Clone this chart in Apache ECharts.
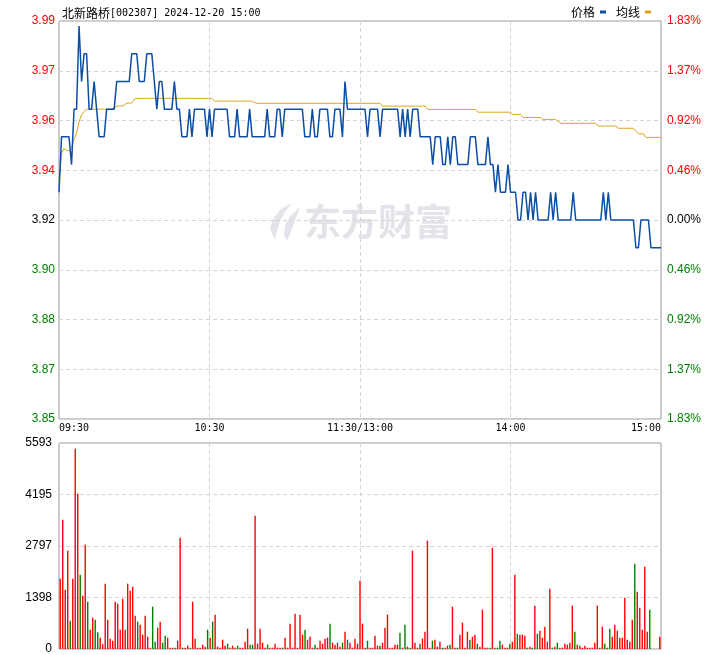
<!DOCTYPE html>
<html><head><meta charset="utf-8">
<script src="https://cdn.jsdelivr.net/npm/echarts@6/dist/echarts.min.js"></script>
<style>html,body{margin:0;padding:0;background:#fff}#c{width:720px;height:655px}</style>
</head><body><div id="c"></div>
<script>
const stockName = '北新路桥';
const stockInfo = '[002307] 2024-12-20 15:00';
const preClose = 3.92;
const volMax = 5593;
const tickLabels = ['09:30', '10:30', '11:30', '14:00', '15:00'];
const splitLabels = ['10:30', '11:30', '14:00'];
const legendNames = ['价格', '均线'];

const price = [
 3.93,3.95,3.95,3.95,3.95,3.94,3.96,3.96,3.99,3.97,3.98,3.98,3.96,3.96,3.97,3.96,3.95,3.95,3.95,3.96,
 3.96,3.96,3.96,3.97,3.97,3.97,3.97,3.97,3.97,3.98,3.98,3.98,3.97,3.97,3.97,3.98,3.98,3.98,3.97,3.96,
 3.97,3.97,3.96,3.96,3.96,3.96,3.97,3.96,3.96,3.95,3.95,3.95,3.96,3.95,3.96,3.96,3.96,3.96,3.96,3.95,
 3.96,3.95,3.96,3.96,3.96,3.96,3.96,3.96,3.95,3.95,3.95,3.96,3.95,3.95,3.95,3.95,3.96,3.95,3.95,3.95,
 3.95,3.95,3.95,3.96,3.95,3.95,3.95,3.96,3.96,3.95,3.96,3.96,3.96,3.96,3.96,3.96,3.96,3.96,3.95,3.95,
 3.95,3.96,3.95,3.95,3.96,3.96,3.96,3.96,3.95,3.95,3.96,3.96,3.96,3.95,3.97,3.96,3.96,3.96,3.96,3.96,
 3.96,3.96,3.96,3.95,3.96,3.96,3.96,3.96,3.95,3.96,3.96,3.96,3.96,3.96,3.96,3.96,3.95,3.96,3.95,3.96,
 3.95,3.96,3.96,3.96,3.95,3.95,3.95,3.95,3.95,3.94,3.95,3.95,3.95,3.94,3.94,3.95,3.94,3.95,3.95,3.94,
 3.94,3.94,3.94,3.94,3.95,3.95,3.95,3.94,3.94,3.94,3.94,3.95,3.94,3.94,3.93,3.94,3.93,3.93,3.93,3.94,
 3.93,3.93,3.93,3.92,3.92,3.93,3.93,3.92,3.93,3.92,3.93,3.92,3.92,3.92,3.92,3.92,3.93,3.92,3.93,3.92,
 3.92,3.92,3.92,3.92,3.92,3.93,3.92,3.92,3.92,3.92,3.92,3.92,3.92,3.92,3.92,3.92,3.92,3.93,3.92,3.93,
 3.92,3.92,3.92,3.92,3.92,3.92,3.92,3.92,3.92,3.92,3.91,3.91,3.92,3.92,3.92,3.92,3.91,3.91,3.91,3.91,3.91
];

const avgPrice = [
 3.934,3.944,3.9458,3.9452,3.945,3.946,3.949,3.9515,3.9555,3.958,3.9592,3.96,3.96,3.96,3.96,3.96,3.96,3.96,3.96,3.96,
 3.96,3.96,3.9606,3.9611,3.9611,3.9611,3.9615,3.9621,3.9622,3.9622,3.9636,3.9639,3.9639,3.9639,3.9639,3.9639,3.9639,3.9639,3.9639,3.9639,
 3.9639,3.9639,3.9639,3.9639,3.9639,3.9639,3.9639,3.9639,3.9639,3.9639,3.9639,3.9639,3.9639,3.9639,3.9639,3.9639,3.9639,3.9639,3.9639,3.9639,
 3.9639,3.9639,3.9629,3.9629,3.9629,3.9629,3.9629,3.9629,3.9629,3.9629,3.9629,3.9629,3.9629,3.9629,3.9629,3.9629,3.9629,3.9629,3.9624,3.9621,
 3.9621,3.9621,3.9621,3.9621,3.9621,3.9621,3.9621,3.9621,3.9621,3.9621,3.9621,3.9621,3.9621,3.9621,3.9621,3.9621,3.9621,3.9621,3.9621,3.9621,
 3.9621,3.9621,3.9621,3.9621,3.9621,3.9621,3.9621,3.9621,3.9621,3.9621,3.9621,3.9621,3.9621,3.9621,3.9621,3.9621,3.9621,3.9621,3.9621,3.9621,
 3.9621,3.9621,3.9621,3.9621,3.9621,3.9621,3.9621,3.9621,3.9621,3.9611,3.9611,3.9611,3.9611,3.9611,3.9611,3.9611,3.9611,3.9611,3.9611,3.9611,
 3.9611,3.9611,3.9611,3.9611,3.9611,3.9611,3.9611,3.9599,3.9599,3.9599,3.9599,3.9599,3.9599,3.9599,3.9599,3.9599,3.9599,3.9599,3.9599,3.9599,
 3.9599,3.9599,3.9599,3.9599,3.9599,3.9599,3.9599,3.9589,3.9589,3.9589,3.9589,3.9589,3.9589,3.9589,3.9589,3.9589,3.9589,3.9589,3.9589,3.9589,
 3.9589,3.9581,3.9581,3.9581,3.9581,3.957,3.957,3.957,3.957,3.957,3.957,3.957,3.957,3.9563,3.9563,3.9563,3.9563,3.9563,3.9563,3.9556,
 3.9549,3.9549,3.9549,3.9549,3.9549,3.9549,3.9549,3.9549,3.9549,3.9549,3.9549,3.9549,3.9549,3.9549,3.9549,3.9539,3.9539,3.9539,3.9539,3.9539,
 3.9539,3.9539,3.9539,3.9531,3.9531,3.9531,3.9531,3.9531,3.9531,3.9531,3.952,3.9511,3.9511,3.9511,3.9498,3.9498,3.9498,3.9498,3.9498,3.9498,3.9498
];

const volume = [
 1910,3511,1611,2670,769,1910,5439,4217,2018,1448,2833,1285,525,851,796,452,308,127,1774,796,
 281,226,1285,1231,525,1367,525,1774,1584,1692,905,742,661,389,905,335,36,1149,199,579,
 742,172,362,308,36,36,36,226,3023,36,36,90,36,1285,281,36,36,118,63,525,
 308,742,932,63,36,253,90,145,36,90,36,90,36,36,199,552,118,118,3620,145,
 552,172,36,118,36,36,145,36,36,36,308,36,688,36,959,36,932,389,525,253,
 335,36,118,36,226,145,281,308,688,172,118,172,63,172,471,253,172,36,281,145,
 1855,688,36,226,36,36,362,90,90,172,579,932,36,36,118,118,443,36,661,63,
 36,2670,172,36,145,281,471,2941,36,226,253,63,199,36,36,90,118,1149,36,36,
 389,715,36,471,253,335,389,145,63,1068,36,36,36,2751,36,36,226,118,36,36,
 145,199,2018,416,389,389,362,36,63,36,1177,416,498,308,606,199,1638,36,63,172,
 36,36,145,118,172,1177,471,118,90,36,90,36,36,36,172,1177,36,606,145,36,
 552,335,661,498,308,308,1394,253,199,796,2317,1557,1122,525,2236,471,1068,0,0,0,335
];

const volDir = (
 'rrrrgrrrgrrgrrggrrrr' + 'rrrrrrrrrrrgrrrrrggr' + 'rggrrrgrrgrrgrrrrrrg' +
 'rgrrrrrgrrrgrrrrggrr' + 'rrrgrrrrrgrrrrrrrrgr' + 'rrgrrrrrgrrrrgrgrrrr' +
 'rrrgrrrrgrrrrrrrgrgr' + 'grrrgrrrrgrrrgrrgrrg' + 'rrrrgrrgrrrrgrrggrrr' +
 'grrgrrrgrgrgrrrrrgrg' + 'rrrrrrgrrrrrrrrrrrgr' + 'grrrrrrrrrgrrrrrgrrrr'
).split('');

// minute categories of the trading day
function hhmm(t) { const h = Math.floor(t / 60), m = t % 60; return (h < 10 ? '0' : '') + h + ':' + (m < 10 ? '0' : '') + m; }
const minutes = [];
for (let t = 9 * 60 + 30; t <= 11 * 60 + 30; t++) minutes.push(hhmm(t));
for (let t = 13 * 60 + 1; t <= 15 * 60; t++) minutes.push(hhmm(t));

const axisPct = 1.832;                 // +/- percent range of the price axis
const q = preClose * axisPct / 100 / 4; // one axis step in price
const toY = p => (p - preClose) / q;

const BLUE = '#0c4ea4', YELLOW = '#dca21c', RED = '#ff0000', GREEN = '#008000';
const dash = { color: '#d4d4d4', type: [4, 3], width: 1 };
const numFont = '"Liberation Sans", Arial, sans-serif';
const monoFont = '"DejaVu Sans Mono", "Liberation Mono", monospace';
const cjkFont = '"Noto Sans CJK SC", sans-serif';
const upDownColor = v => { v = Number(v); return v > 1e-6 ? RED : (v < -1e-6 ? GREEN : '#000000'); };

const chart = echarts.init(document.getElementById('c'), null, { renderer: 'canvas' });
chart.setOption({
  animation: false,
  backgroundColor: '#ffffff',
  textStyle: { fontFamily: numFont },
  title: {
    text: '{a|' + stockName + '}{b|' + stockInfo + '}',
    left: 57, top: 2,
    textStyle: { fontWeight: 'normal', rich: {
      a: { fontFamily: cjkFont, fontSize: 12, fontWeight: 'normal', color: '#000' },
      b: { fontFamily: monoFont, fontSize: 10, fontWeight: 'normal', color: '#000' }
    } }
  },
  legend: {
    data: legendNames, right: 64, top: 1, align: 'right', icon: 'rect',
    itemWidth: 6, itemHeight: 3, itemGap: 10,
    textStyle: { fontFamily: cjkFont, fontSize: 12, color: '#000' }
  },
  grid: [
    { left: 59, top: 21, width: 602, height: 398, show: true, borderColor: '#999', borderWidth: 1, backgroundColor: 'transparent' },
    { left: 59, top: 443, width: 602, height: 206, show: true, borderColor: '#999', borderWidth: 1, backgroundColor: 'transparent' }
  ],
  xAxis: [
    { type: 'category', gridIndex: 0, data: minutes, boundaryGap: false,
      axisLine: { show: false }, axisTick: { show: false },
      axisLabel: { interval: (i, v) => tickLabels.includes(v), formatter: v => v === '11:30' ? '11:30/13:00' : v,
        alignMinLabel: 'left', alignMaxLabel: 'right', showMinLabel: true, showMaxLabel: true,
        fontFamily: monoFont, fontSize: 10, color: '#000', margin: 4 },
      splitLine: { show: true, interval: (i, v) => splitLabels.includes(v), lineStyle: dash } },
    { type: 'category', gridIndex: 1, data: minutes, boundaryGap: true, show: false },
    { type: 'category', gridIndex: 1, data: minutes, boundaryGap: false,
      axisLine: { show: false }, axisTick: { show: false }, axisLabel: { show: false },
      splitLine: { show: true, interval: (i, v) => splitLabels.includes(v), lineStyle: dash } }
  ],
  yAxis: [
    { type: 'value', gridIndex: 0, min: -4, max: 4, interval: 1,
      axisLine: { show: false }, axisTick: { show: false }, splitLine: { show: true, lineStyle: dash },
      axisLabel: { formatter: v => (preClose + v * q).toFixed(2), color: upDownColor,
        fontFamily: numFont, fontSize: 12, margin: 4, showMinLabel: true, showMaxLabel: true } },
    { type: 'value', gridIndex: 0, position: 'right', min: -4, max: 4, interval: 1,
      axisLine: { show: false }, axisTick: { show: false }, splitLine: { show: false },
      axisLabel: { formatter: v => (Math.abs(v) * axisPct / 4).toFixed(2) + '%', color: upDownColor,
        fontFamily: numFont, fontSize: 12, margin: 6, showMinLabel: true, showMaxLabel: true } },
    { type: 'value', gridIndex: 1, min: 0, max: volMax, interval: volMax / 4,
      axisLine: { show: false }, axisTick: { show: false }, splitLine: { show: true, lineStyle: dash },
      axisLabel: { formatter: v => String(Math.round(v)), color: '#000',
        fontFamily: numFont, fontSize: 12, margin: 7, showMinLabel: true, showMaxLabel: true } }
  ],
  graphic: [
    { type: 'polygon', z: 0, silent: true,
      shape: { points: [[292,203],[281,209],[273,219],[270,229],[275,240],[277,231],[280,221],[285,212]] },
      style: { fill: '#e3e4ea' } },
    { type: 'polygon', z: 0, silent: true,
      shape: { points: [[300,207],[291,215],[285,225],[284,235],[287,241],[291,232],[295,220]] },
      style: { fill: '#e3e4ea' } },
    { type: 'text', z: 0, silent: true, x: 304, y: 222,
      style: { text: '东方财富', font: 'bold 37px "Noto Sans CJK SC"', fill: '#e3e4ea', verticalAlign: 'middle' } }
  ],
  series: [
    { name: legendNames[1], type: 'line', xAxisIndex: 0, yAxisIndex: 0, data: avgPrice.map(toY),
      showSymbol: false, symbol: 'none', silent: true, z: 3,
      lineStyle: { color: YELLOW, width: 1 }, itemStyle: { color: YELLOW } },
    { name: legendNames[0], type: 'line', xAxisIndex: 0, yAxisIndex: 0, data: price.map(toY),
      showSymbol: false, symbol: 'none', silent: true, z: 4,
      lineStyle: { color: BLUE, width: 1.5 }, itemStyle: { color: BLUE } },
    { type: 'bar', xAxisIndex: 1, yAxisIndex: 2, barWidth: 1.4, silent: true,
      data: volume.map((v, i) => ({ value: v, itemStyle: { color: volDir[i] === 'g' ? GREEN : RED } })) }
  ]
});
</script>
</body></html>
